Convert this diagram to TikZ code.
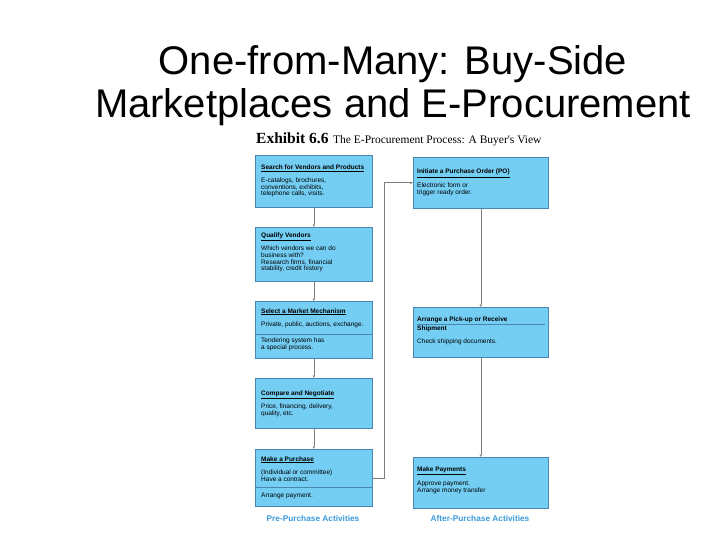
\documentclass[tikz,border=0pt]{standalone}
\usepackage{fontspec}
\setmainfont{Liberation Sans}
\newfontfamily\exhibitfont{Liberation Serif}
\usepackage{tikz}
\usetikzlibrary{arrows.meta}
\usepackage{xcolor}

\definecolor{boxfill}{HTML}{74CEF4}
\definecolor{boxline}{HTML}{4A86AE}
\definecolor{linegray}{HTML}{7F7F7F}
\definecolor{tagblue}{HTML}{3A9AD9}

\tikzset{
  box/.style={draw=boxline, fill=boxfill, line width=0.6pt, anchor=north west,
    inner sep=0pt, minimum width=117pt},
  rbox/.style={box, minimum width=135pt},
  head/.style={font=\bfseries\fontsize{6.5}{7}\selectfont, anchor=base west, inner sep=0pt},
  body/.style={font=\fontsize{6.5}{6.6}\selectfont, anchor=north west, align=left,
    inner sep=0pt},
  rule/.style={draw=boxline, line width=0.5pt},
  flow/.style={draw=linegray, line width=0.6pt, -{Stealth[length=3pt,width=2.4pt]}},
  tag/.style={font=\bfseries\fontsize{8.3}{9}\selectfont, text=tagblue}
}

\begin{document}
\begin{tikzpicture}[x=1pt, y=-1pt]
    \useasboundingbox (0,0) rectangle (720,540);
    % Titel
    \node[font=\fontsize{40}{43}\selectfont, anchor=base] (title1) at (393,75) {One-from-Many: Buy-Side};
    \node[font=\fontsize{40}{43}\selectfont, anchor=base] (title2) at (393,118) {Marketplaces and E-Procurement};
    \node[font=\exhibitfont\bfseries\fontsize{15.5}{16}\selectfont, anchor=base west, inner sep=0pt] (exh) at (256,144) {Exhibit 6.6};
    \node[font=\exhibitfont\fontsize{11.5}{12}\selectfont, anchor=base west, inner sep=0pt] (exhsub) at (333,144) {The E-Procurement Process: A Buyer's View};

    % Pre-purchase column
    \node[box, minimum height=52pt] (s1) at (255,155) {};
    \node[head] (s1h) at (261,170) {\underline{Search for Vendors and Products}};
    \node[body] (s1b) at (261,177.5) {E-catalogs, brochures,\\conventions, exhibits,\\telephone calls, visits.};

    \node[box, minimum height=54pt] (s2) at (255,227) {};
    \node[head] (s2h) at (261,237) {\underline{Qualify Vendors}};
    \node[body] (s2b) at (261,246) {Which vendors we can do\\business with?\\Research firms, financial\\stability, credit history};

    \node[box, minimum height=57pt] (s3) at (255,301) {};
    \node[head] (s3h) at (261,313) {\underline{Select a Market Mechanism}};
    \node[body] (s3b) at (261,322) {Private, public, auctions, exchange.};
    \draw[rule] ([yshift=-33pt]s3.north west) -- ([yshift=-33pt]s3.north east);
    \node[body] (s3c) at (261,338) {Tendering system has\\a special process.};

    \node[box, minimum height=50pt] (s4) at (255,378) {};
    \node[head] (s4h) at (261,395) {\underline{Compare and Negotiate}};
    \node[body] (s4b) at (261,404) {Price, financing, delivery,\\quality, etc.};

    \node[box, minimum height=57pt] (s5) at (255,449) {};
    \node[head] (s5h) at (261,461) {\underline{Make a Purchase}};
    \node[body] (s5b) at (261,470) {(Individual or committee)\\Have a contract.};
    \draw[rule] ([yshift=-38pt]s5.north west) -- ([yshift=-38pt]s5.north east);
    \node[body] (s5c) at (261,493) {Arrange payment.};

    % After-purchase column
    \node[rbox, minimum height=51pt] (r1) at (413,157) {};
    \node[head] (r1h) at (417,174) {\underline{Initiate a Purchase Order (PO)}};
    \node[body] (r1b) at (417,183) {Electronic form or\\trigger ready order.};

    \node[rbox, minimum height=50pt] (r2) at (413,307) {};
    \node[head] (r2h) at (417,321) {Arrange a Pick-up or Receive};
    \draw[rule] ([xshift=4pt,yshift=-17pt]r2.north west) -- ([xshift=-4pt,yshift=-17pt]r2.north east);
    \node[head] (r2s) at (417,330) {Shipment};
    \node[body] (r2b) at (417,339) {Check shipping documents.};

    \node[rbox, minimum height=51pt] (r3) at (413,457) {};
    \node[head] (r3h) at (417,471) {\underline{Make Payments}};
    \node[body] (r3b) at (417,481) {Approve payment.\\Arrange money transfer};

    % Verbindungen
    \draw[flow] (s1) -- (s2);
    \draw[flow] (s2) -- (s3);
    \draw[flow] (s3) -- (s4);
    \draw[flow] (s4) -- (s5);
    \draw[flow] (s5.east) -- ++(12,0) |- (r1.west);
    \draw[flow] (r1) -- (r2);
    \draw[flow] (r2) -- (r3);

    \node[tag] (pre) at (313,519) {Pre-Purchase Activities};
    \node[tag] (post) at (480,519) {After-Purchase Activities};
\end{tikzpicture}
\end{document}
